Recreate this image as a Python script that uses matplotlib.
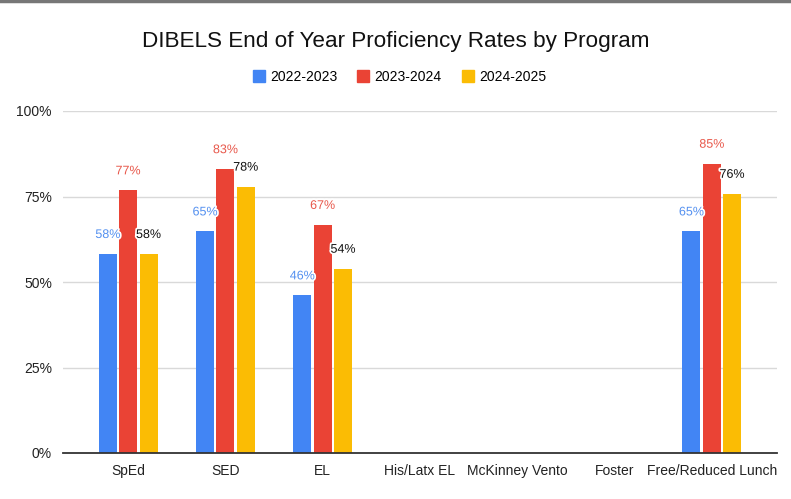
import numpy as np
import matplotlib
matplotlib.use("Agg")
import matplotlib.pyplot as plt
import matplotlib.patheffects as pe
from matplotlib.lines import Line2D

plt.rcParams['font.family'] = ['Liberation Sans', 'DejaVu Sans']

programs = ["SpEd", "SED", "EL", "His/Latx EL", "McKinney Vento", "Foster",
            "Free/Reduced Lunch"]
years = ["2022-2023", "2023-2024", "2024-2025"]
# None = no data for that program
rates_2223 = [58.2, 64.8, 46.1, None, None, None, 64.8]
rates_2324 = [76.8, 83.0, 66.7, None, None, None, 84.6]
rates_2425 = [58.2, 77.9, 53.9, None, None, None, 75.8]
y_ticks = [0, 25, 50, 75, 100]

colors = ["#4285F4", "#EA4335", "#FBBC04"]
label_colors = ["#5591f0", "#e8584b", "#111111"]

fig = plt.figure(figsize=(7.91, 4.99), dpi=100)
ax = fig.add_axes([63/791, 1 - 453/499, (777 - 63)/791, (453 - 111)/499])

x = np.arange(len(programs))
pitch = 0.209
width = 0.185
for i, (series, c, lc) in enumerate(zip([rates_2223, rates_2324, rates_2425],
                                          colors, label_colors)):
    xs = [xi + (i - 1) * pitch for xi, v in zip(x, series) if v is not None]
    vs = [v for v in series if v is not None]
    ax.bar(xs, vs, width=width, color=c, zorder=3)
    for xx, v in zip(xs, vs):
        ax.annotate(f"{v:.0f}%", (xx, v), xytext=(0, 11.5), textcoords="offset points",
                    ha="center", va="baseline", fontsize=9, color=lc, zorder=5,
                    path_effects=[pe.withStroke(linewidth=2.5, foreground="white")])

ax.set_xlim(-0.67, 6.67)
ax.set_ylim(0, 100)
ax.set_yticks(y_ticks)
ax.set_yticklabels([f"{t}%" for t in y_ticks], fontsize=10, color="#222222")
ax.set_xticks(x)
ax.set_xticklabels(programs, fontsize=10, color="#222222")
ax.tick_params(axis="both", length=0)
ax.tick_params(axis="y", pad=8)
ax.tick_params(axis="x", pad=8)
ax.grid(axis="y", color="#d9d9d9", linewidth=1, zorder=0)
for s in ["top", "right", "left"]:
    ax.spines[s].set_visible(False)
ax.spines["bottom"].set_color("#333333")
ax.spines["bottom"].set_linewidth(1.3)
ax.spines["bottom"].set_zorder(4)

fig.text(0.5, 1 - 42/499, "DIBELS End of Year Proficiency Rates by Program",
         ha="center", va="center", fontsize=16.2, color="#111111")

handles = [Line2D([], [], marker="s", linestyle="", markersize=9,
                  markerfacecolor=c, markeredgecolor=c) for c in colors]
fig.legend(handles, years, loc="center", bbox_to_anchor=(399/791, 1 - 77/499),
           ncol=3, frameon=False, fontsize=10, handletextpad=0.3,
           columnspacing=1.4, handlelength=1.0)

fig.add_artist(Line2D([0, 1], [1 - 1/499, 1 - 1/499], color="#777777",
                      linewidth=2.5, transform=fig.transFigure))

fig.savefig("out.png", dpi=100)
